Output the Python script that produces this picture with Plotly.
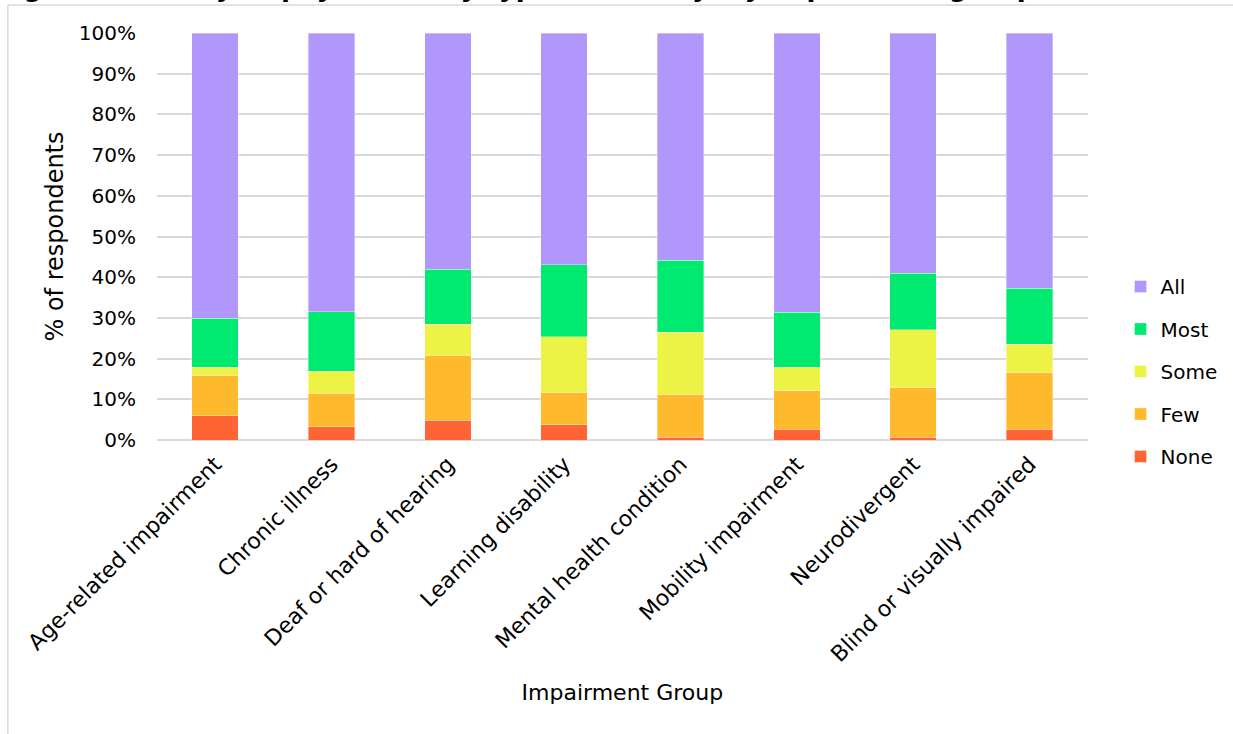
import plotly.graph_objects as go

categories = ["Age-related impairment", "Chronic illness", "Deaf or hard of hearing",
              "Learning disability", "Mental health condition", "Mobility impairment",
              "Neurodivergent", "Blind or visually impaired"]
none_vals = [5.9, 3.2, 4.9, 3.7, 0.7, 2.6, 0.7, 2.7]
few_vals = [10.0, 8.3, 15.9, 8.0, 10.5, 9.6, 12.3, 13.9]
some_vals = [2.0, 5.4, 7.6, 13.7, 15.3, 5.7, 14.1, 6.9]
most_vals = [12.0, 14.6, 13.5, 17.6, 17.7, 13.5, 13.9, 13.8]
all_vals = [70.1, 68.5, 58.1, 57.0, 55.8, 68.6, 59.0, 62.7]

series = [("None", none_vals, "#FF6534"), ("Few", few_vals, "#FEBA2C"),
          ("Some", some_vals, "#ECF345"), ("Most", most_vals, "#00EA72"),
          ("All", all_vals, "#B196FB")]

FONT = "DejaVu Sans"

fig = go.Figure()
for i, (name, vals, col) in enumerate(series):
    fig.add_trace(go.Bar(
        x=categories, y=[v / 100 for v in vals], name=name, legendgroup=name,
        legendrank=len(series) - i,
        marker=dict(color=col, line=dict(color="rgba(255,255,255,0.6)", width=0.6)),
    ))

# plot area in px: left 157, right 1093, top 33, bottom 440
L, R, T, B = 157, 1093, 33, 440
MR = 10                       # right page margin; legend lives inside paper
PW = 1233 - L - MR            # paper width
H = B - T
def px(x): return (x - L) / PW
def py(y): return (B - y) / H

fig.update_layout(
    barmode="stack", bargap=0.6,
    width=1233, height=734,
    margin=dict(l=L, r=MR, t=T, b=734 - B),
    paper_bgcolor="white", plot_bgcolor="white",
    font=dict(family=FONT, size=20, color="#000000"),
    showlegend=True,
    legend=dict(x=px(1126), y=py(267), xanchor="left", yanchor="top",
                traceorder="grouped", tracegroupgap=13.5,
                font=dict(size=20), itemwidth=30, bgcolor="rgba(0,0,0,0)"),
    xaxis=dict(domain=[0, px(R)], tickangle=-45, showgrid=False, showline=False, ticks="",
               title=dict(text="Impairment Group", font=dict(size=22), standoff=18),
               tickfont=dict(size=22), ticklabelstandoff=6),
    yaxis=dict(range=[0, 1], tickformat=".0%", dtick=0.1, showgrid=True,
               gridcolor="#D9D9D9", gridwidth=1.5, zeroline=True,
               zerolinecolor="#D9D9D9", zerolinewidth=1.5,
               title=dict(text="% of respondents", font=dict(size=24), standoff=8),
               tickfont=dict(size=20), ticks="", ticklabelstandoff=20),
    shapes=[
        dict(type="line", xref="paper", yref="paper", x0=px(7), x1=px(1245),
             y0=py(5), y1=py(5), line=dict(color="#D9D9D9", width=1.5)),
        dict(type="line", xref="paper", yref="paper", x0=px(7), x1=px(7),
             y0=py(5), y1=py(740), line=dict(color="#D9D9D9", width=1.5)),
    ],
    annotations=[
        dict(text="<b>Figure 4: Ability to pay online by type of activity, by impairment group</b>",
             xref="paper", yref="paper", x=px(1042), y=py(3.5), xanchor="right", yanchor="bottom",
             showarrow=False, font=dict(size=26, family=FONT, color="#000000")),
    ],
)

fig.write_html("out.html", config={"displayModeBar": False},
               post_script="document.body.style.margin='0';document.body.style.overflow='hidden';")
